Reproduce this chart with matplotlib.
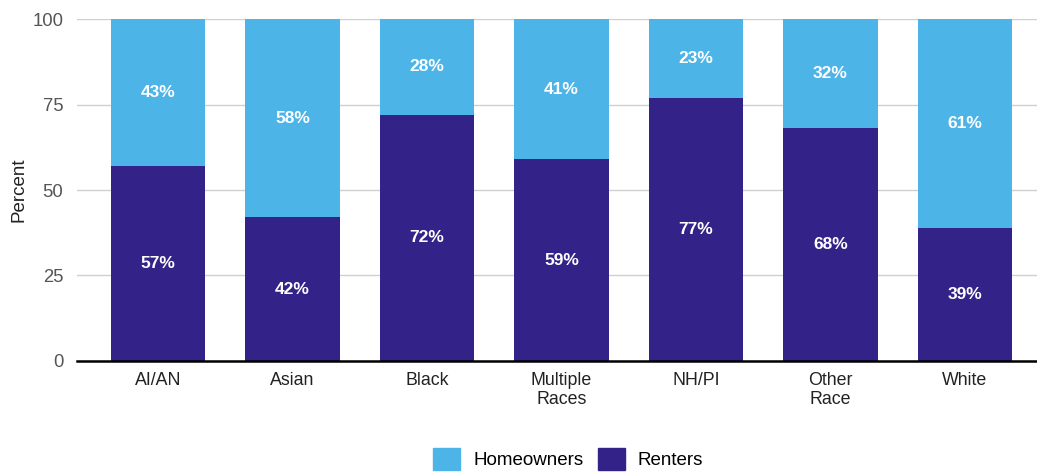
import matplotlib
matplotlib.use("Agg")
import matplotlib.pyplot as plt
from matplotlib.patches import Patch

categories = ["AI/AN", "Asian", "Black", "Multiple\nRaces", "NH/PI", "Other\nRace", "White"]
renters = [57, 42, 72, 59, 77, 68, 39]
homeowners = [43, 58, 28, 41, 23, 32, 61]
y_ticks = [0, 25, 50, 75, 100]

c_home = "#4DB4E7"
c_rent = "#332288"

plt.rcParams["font.family"] = ["Liberation Sans", "DejaVu Sans"]

fig = plt.figure(figsize=(10.37, 4.72), dpi=100)
ax = fig.add_axes([0.0743, 0.2352, 0.9257, 0.7245])

x = list(range(len(categories)))
w = 0.70
ax.bar(x, renters, width=w, color=c_rent, zorder=3)
ax.bar(x, homeowners, width=w, bottom=renters, color=c_home, zorder=3)

for xi, r, h in zip(x, renters, homeowners):
    ax.text(xi, r / 2, f"{r}%", ha="center", va="center", color="white",
            fontsize=12.5, fontweight="bold", zorder=4)
    ax.text(xi, r + h / 2, f"{h}%", ha="center", va="center", color="white",
            fontsize=12.5, fontweight="bold", zorder=4)

ax.set_xlim(-0.602, 6.535)
ax.set_ylim(0, 100)
ax.set_yticks(y_ticks)
ax.tick_params(axis="y", length=0, pad=10, labelsize=13.3, labelcolor="#555555")
ax.tick_params(axis="x", length=0, pad=8, labelsize=12.8, labelcolor="#222222")
ax.set_xticks(x)
ax.set_xticklabels(categories, linespacing=1.15)
ax.grid(axis="y", color="#d0d0d0", linewidth=1, zorder=0)
for s in ["top", "right", "left"]:
    ax.spines[s].set_visible(False)
ax.spines["bottom"].set_color("black")
ax.spines["bottom"].set_linewidth(1.8)
ax.spines["bottom"].set_zorder(5)
ax.set_ylabel("Percent", fontsize=13.5, color="#222222", labelpad=3)

handles = [Patch(color=c_home, label="Homeowners"), Patch(color=c_rent, label="Renters")]
fig.legend(handles=handles, loc="center", bbox_to_anchor=(0.548, 0.028), ncol=2,
           frameon=False, fontsize=13.5, handlelength=1.44, handleheight=1.44,
           handletextpad=0.7, columnspacing=0.75, borderpad=0.0)

fig.savefig("out.png", dpi=100)
